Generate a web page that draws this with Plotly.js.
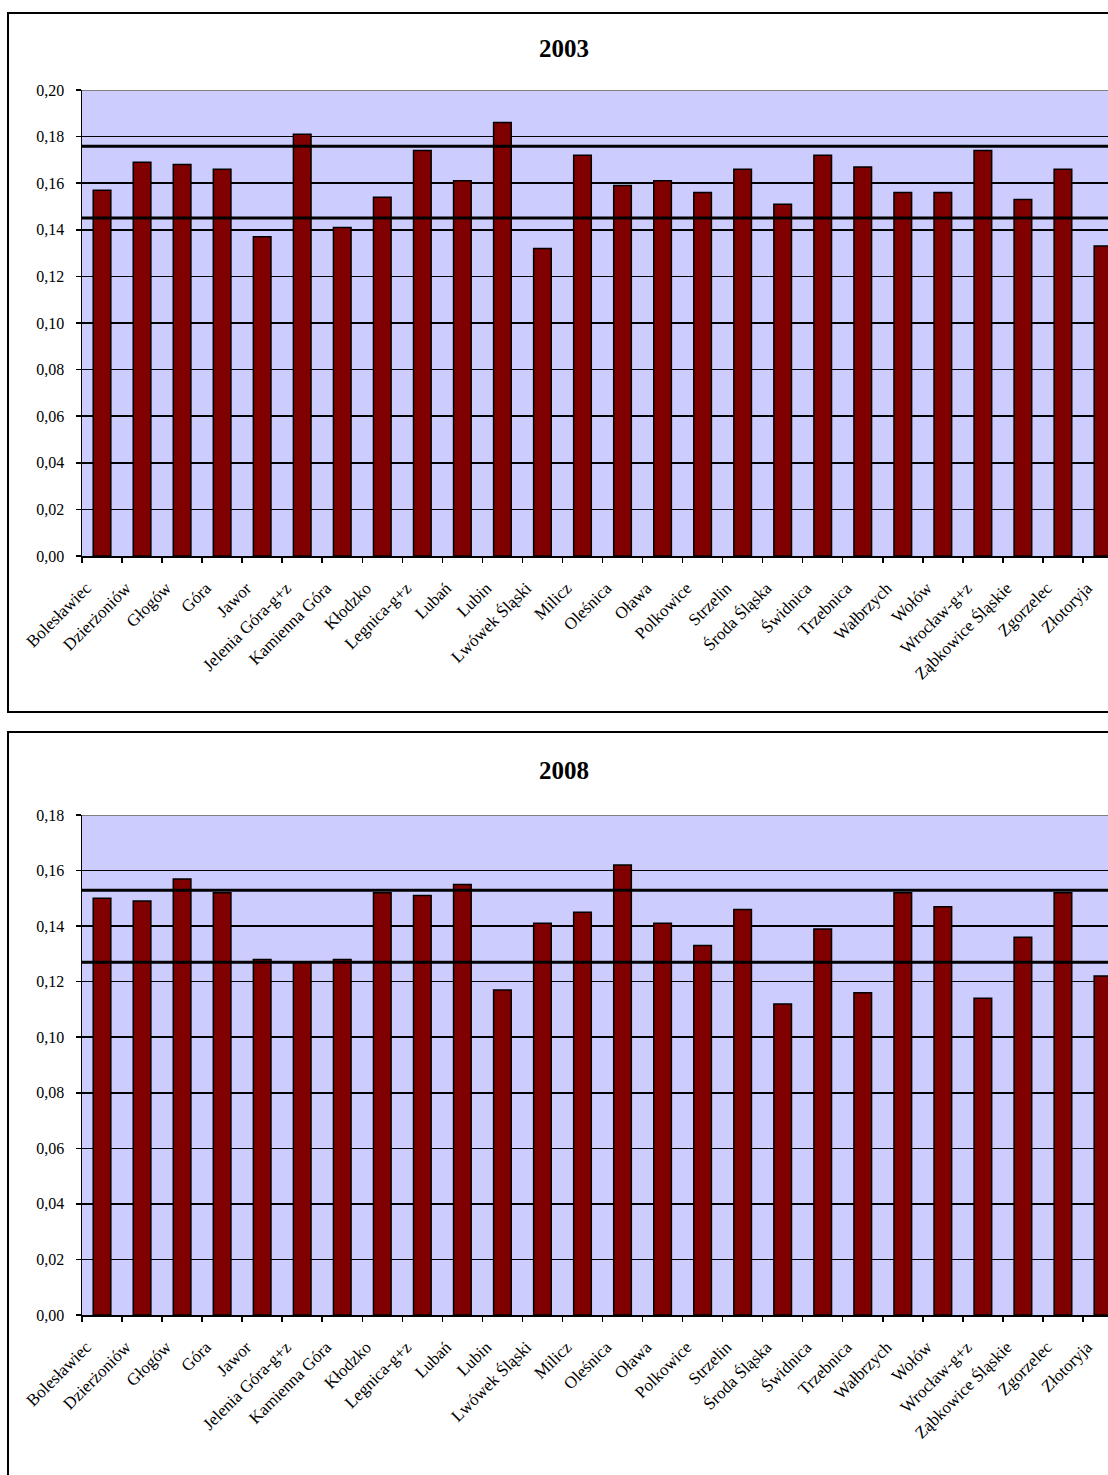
<!DOCTYPE html>
<html><head><meta charset="utf-8">
<script src="https://cdn.plot.ly/plotly-3.0.1.min.js"></script>
<style>
html,body{margin:0;padding:0;overflow:hidden;background:#fff;width:1108px;height:1475px}
#chart{position:absolute;left:0;top:0;width:1140px;height:1475px}
</style>
</head><body><div id="chart"></div>
<script>
const districts = ["Bolesławiec","Dzierżoniów","Głogów","Góra","Jawor","Jelenia Góra-g+z","Kamienna Góra","Kłodzko","Legnica-g+z","Lubań","Lubin","Lwówek Śląski","Milicz","Oleśnica","Oława","Polkowice","Strzelin","Środa Śląska","Świdnica","Trzebnica","Wałbrzych","Wołów","Wrocław-g+z","Ząbkowice Śląskie","Zgorzelec","Złotoryja"];
const values2003 = [0.157,0.169,0.168,0.166,0.137,0.181,0.141,0.154,0.174,0.161,0.186,0.132,0.172,0.159,0.161,0.156,0.166,0.151,0.172,0.167,0.156,0.156,0.174,0.153,0.166,0.133];
const values2008 = [0.150,0.149,0.157,0.152,0.128,0.127,0.128,0.152,0.151,0.155,0.117,0.141,0.145,0.162,0.141,0.133,0.146,0.112,0.139,0.116,0.152,0.147,0.114,0.136,0.152,0.122];
const refLines2003 = [0.1759, 0.1451];
const refLines2008 = [0.1529, 0.1270];
const yTicks2003 = [0,0.02,0.04,0.06,0.08,0.10,0.12,0.14,0.16,0.18,0.20];
const yTicks2008 = [0,0.02,0.04,0.06,0.08,0.10,0.12,0.14,0.16,0.18];
const titles = ["2003","2008"];

const W = 1140, H = 1475;
const serif = "Liberation Serif, Times New Roman, serif";
const px = v => v / W;
const py = v => 1 - v / H;

const barStyle = {color:"#800000", line:{color:"#000000", width:1.5}};
const traces = [
  {type:"bar", x:districts, y:values2003, marker:barStyle, xaxis:"x", yaxis:"y", hoverinfo:"x+y"},
  {type:"bar", x:districts, y:values2008, marker:barStyle, xaxis:"x2", yaxis:"y2", hoverinfo:"x+y"}
];

function xAxis(anchor){
  return {domain:[px(82), px(1123)], anchor:anchor, type:"category", tickson:"boundaries",
    ticks:"outside", ticklen:5, tickwidth:1.5, tickcolor:"#000", showline:true, linecolor:"#000", linewidth:1.5,
    showgrid:false, tickangle:-45, ticklabelshift:-16, ticklabelstandoff:14,
    tickfont:{family:serif, size:17, color:"#000"}, fixedrange:true};
}
function yAxis(anchor, top, bottom, ticks){
  return {domain:[py(bottom), py(top)], anchor:anchor, range:[0, ticks[ticks.length-1]], tickvals:ticks,
    tickformat:".2f", ticks:"outside", ticklen:5, tickwidth:1.5, tickcolor:"#000", showline:true,
    linecolor:"#000", linewidth:1.5, showgrid:true, gridcolor:"#000", gridwidth:1.5, zeroline:false,
    ticklabelstandoff:8, tickfont:{family:serif, size:16, color:"#000"}, fixedrange:true};
}

const shapes = [];
function refShapes(lines, xr, yr){
  lines.forEach(v => shapes.push({type:"line", xref:xr+" domain", yref:yr, x0:0, x1:1, y0:v, y1:v,
    line:{color:"#000", width:3}}));
}
refShapes(refLines2003, "x", "y");
refShapes(refLines2008, "x2", "y2");
shapes.push({type:"line", xref:"x domain", yref:"y", x0:0, x1:1, y0:yTicks2003[yTicks2003.length-1], y1:yTicks2003[yTicks2003.length-1], line:{color:"#808080", width:2}});
shapes.push({type:"line", xref:"x2 domain", yref:"y2", x0:0, x1:1, y0:yTicks2008[yTicks2008.length-1], y1:yTicks2008[yTicks2008.length-1], line:{color:"#808080", width:2}});
// chart frames
shapes.push({type:"rect", xref:"paper", yref:"paper", x0:px(8), x1:px(1160), y0:py(712), y1:py(13), line:{color:"#000", width:2}, fillcolor:"rgba(0,0,0,0)", layer:"below"});
shapes.push({type:"rect", xref:"paper", yref:"paper", x0:px(8), x1:px(1160), y0:py(1500), y1:py(732), line:{color:"#000", width:2}, fillcolor:"rgba(0,0,0,0)", layer:"below"});

const annotations = [
  {text:"<b>"+titles[0]+"</b>", xref:"paper", yref:"paper", x:px(564), y:py(48), xanchor:"center", yanchor:"middle", showarrow:false, font:{family:serif, size:25, color:"#000"}},
  {text:"<b>"+titles[1]+"</b>", xref:"paper", yref:"paper", x:px(564), y:py(770), xanchor:"center", yanchor:"middle", showarrow:false, font:{family:serif, size:25, color:"#000"}}
];

const layout = {
  width:W, height:H, margin:{l:0,r:0,t:0,b:0}, paper_bgcolor:"#fff", plot_bgcolor:"#CCCCFF",
  separators:",.", showlegend:false, bargap:0.56,
  xaxis:xAxis("y"), yaxis:yAxis("x", 90, 556, yTicks2003),
  xaxis2:xAxis("y2"), yaxis2:yAxis("x2", 815, 1315, yTicks2008),
  shapes:shapes, annotations:annotations,
  font:{family:serif, color:"#000"}
};
Plotly.newPlot("chart", traces, layout, {displayModeBar:false, staticPlot:true});
</script>
</body></html>
